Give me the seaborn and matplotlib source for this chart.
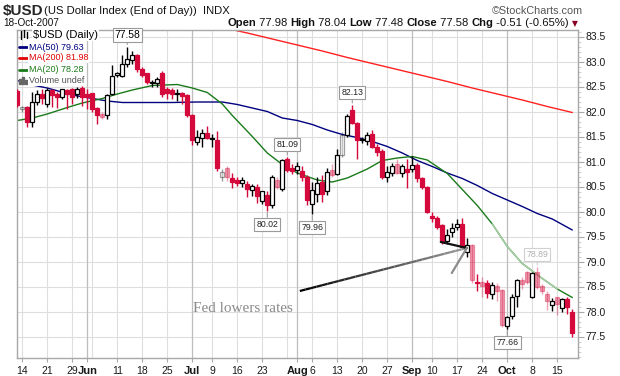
import numpy as np
import pandas as pd
import matplotlib
matplotlib.use("Agg")
import matplotlib.pyplot as plt
from matplotlib.patches import Rectangle
from matplotlib.collections import LineCollection
from matplotlib.lines import Line2D
import seaborn as sns

sns.set_theme(style="white")
plt.rcParams["font.family"] = ["Liberation Sans", "DejaVu Sans"]

# --- colours ---
c_down = "#d40a3c"
c_ma50 = "#00007f"
c_ma200 = "#ff2020"
c_ma20 = "#1a7a1a"
c_grid = "#dedede"
c_grid_month = "#bdbdbd"
c_frame = "#a8a8a8"
c_label = "#9a9a9a"

# --- data: daily bars, 11-May-2007 .. 18-Oct-2007 ---
holidays = ["2007-05-28", "2007-07-04", "2007-09-03"]
days = pd.bdate_range("2007-05-11", "2007-10-18")
days = days[~days.isin(pd.to_datetime(holidays))]

opens = [82.40, 82.05, 82.10, 81.80, 82.20, 82.35, 82.15, 82.43, 82.35, 82.30,
         82.42, 82.46, 82.36, 82.47, 82.35, 82.36, 82.07, 81.95, 81.93, 82.36,
         82.74, 82.72, 82.95, 83.03, 83.13, 82.86, 82.76, 82.58, 82.58, 82.76,
         82.45, 82.42, 82.35, 82.37, 82.33, 81.93, 81.40, 81.48, 81.58, 81.45,
         81.43, 80.68, 80.87, 80.67, 80.62, 80.58, 80.56, 80.43, 80.50, 80.22,
         80.33, 80.13, 80.63, 80.45, 81.05, 80.88, 80.84, 80.82, 80.70, 80.16,
         80.36, 80.60, 80.40, 80.83, 80.76, 81.13, 81.53, 82.03, 81.77, 81.43,
         81.41, 81.55, 81.30, 81.20, 80.68, 80.78, 80.95, 80.77, 80.85, 80.85,
         80.93, 80.67, 80.50, 79.90, 79.87, 79.73, 79.40, 79.60, 79.70, 79.75,
         79.20, 79.33, 78.60, 78.58, 78.56, 78.35, 78.52, 78.42, 77.71, 77.90,
         78.32, 78.62, 78.78, 78.30, 78.78, 78.50, 78.35, 78.14, 78.28, 78.08,
         78.25, 77.98]
highs = [82.45, 82.12, 82.12, 82.40, 82.43, 82.45, 82.48, 82.45, 82.40, 82.46,
         82.45, 82.48, 82.50, 82.52, 82.45, 82.38, 82.10, 82.00, 82.36, 82.93,
         82.80, 83.13, 83.30, 83.22, 83.16, 82.90, 82.78, 82.64, 82.70, 82.82,
         82.50, 82.47, 82.45, 82.40, 82.36, 81.95, 81.63, 81.66, 81.72, 81.55,
         81.62, 80.85, 80.90, 80.78, 80.68, 80.70, 80.62, 80.56, 80.55, 80.42,
         80.40, 80.74, 80.70, 81.05, 81.09, 80.95, 80.99, 80.90, 80.73, 80.60,
         80.70, 80.73, 80.88, 80.95, 81.25, 81.60, 81.95, 82.13, 81.80, 81.50,
         81.60, 81.63, 81.35, 81.25, 80.90, 80.98, 81.05, 80.95, 81.05, 81.12,
         80.97, 80.70, 80.52, 80.00, 79.90, 79.75, 79.65, 79.78, 79.85, 79.88,
         79.47, 79.35, 78.75, 78.68, 78.62, 78.60, 78.58, 78.46, 77.92, 78.35,
         78.66, 78.68, 78.82, 78.80, 78.89, 78.55, 78.40, 78.28, 78.30, 78.28,
         78.30, 78.04]
lows = [82.10, 82.00, 81.68, 81.68, 82.13, 82.15, 82.10, 82.10, 82.08, 82.25,
        82.05, 82.15, 82.28, 82.12, 82.05, 82.00, 81.75, 81.85, 81.85, 82.33,
        82.70, 82.70, 82.90, 82.95, 82.80, 82.70, 82.55, 82.50, 82.50, 82.30,
        82.25, 82.25, 82.22, 82.15, 81.90, 81.33, 81.33, 81.30, 81.45, 81.30,
        80.82, 80.62, 80.62, 80.48, 80.52, 80.50, 80.30, 80.32, 80.17, 80.15,
        80.02, 80.07, 80.45, 80.40, 80.80, 80.75, 80.76, 80.62, 80.13, 79.96,
        80.20, 80.20, 80.33, 80.70, 80.73, 81.10, 81.50, 81.75, 81.06, 81.38,
        81.33, 81.27, 81.12, 80.66, 80.60, 80.72, 80.75, 80.70, 80.48, 80.80,
        80.60, 80.45, 79.97, 79.80, 79.65, 79.35, 79.35, 79.50, 79.62, 79.28,
        79.10, 78.58, 78.42, 78.30, 78.28, 78.25, 78.22, 77.68, 77.66, 77.85,
        78.10, 78.45, 78.55, 78.28, 78.45, 78.35, 78.03, 78.02, 77.93, 78.00,
        77.95, 77.48]
closes = [82.13, 82.09, 81.80, 82.20, 82.35, 82.28, 82.43, 82.33, 82.30, 82.44,
          82.36, 82.30, 82.46, 82.30, 82.30, 82.05, 81.93, 81.90, 82.34, 82.70,
          82.76, 82.96, 83.06, 83.13, 82.86, 82.73, 82.60, 82.59, 82.65, 82.36,
          82.37, 82.35, 82.37, 82.32, 81.93, 81.43, 81.50, 81.58, 81.48, 81.47,
          80.87, 80.80, 80.70, 80.60, 80.58, 80.63, 80.46, 80.51, 80.31, 80.40,
          80.13, 80.70, 80.50, 81.03, 80.83, 80.82, 80.90, 80.70, 80.23, 80.43,
          80.57, 80.36, 80.80, 80.73, 81.13, 81.53, 81.90, 81.77, 81.43, 81.46,
          81.53, 81.30, 81.18, 80.68, 80.80, 80.90, 80.78, 80.90, 80.80, 80.93,
          80.67, 80.50, 80.00, 79.88, 79.70, 79.40, 79.53, 79.67, 79.75, 79.30,
          79.33, 78.62, 78.57, 78.52, 78.37, 78.53, 78.42, 77.74, 77.88, 78.30,
          78.62, 78.55, 78.60, 78.76, 78.50, 78.40, 78.20, 78.20, 78.15, 78.25,
          78.09, 77.58]

# bars that look washed out in the original
faded_days = ["2007-05-14", "2007-06-06", "2007-07-11", "2007-07-12", "2007-07-26",
              "2007-08-10", "2007-08-14", "2007-08-29", "2007-09-20", "2007-09-24",
              "2007-09-27", "2007-09-28", "2007-10-04", "2007-10-05", "2007-10-09",
              "2007-10-10", "2007-10-11", "2007-10-15"]

ma50_dates = ["2007-05-11", "2007-05-16", "2007-05-21", "2007-05-29", "2007-06-04",
              "2007-06-07", "2007-06-12", "2007-06-19", "2007-06-26", "2007-07-03",
              "2007-07-11", "2007-07-16", "2007-07-19", "2007-07-24", "2007-07-27",
              "2007-08-01", "2007-08-06", "2007-08-09", "2007-08-14", "2007-08-17",
              "2007-08-22", "2007-08-27", "2007-08-30", "2007-09-05", "2007-09-10",
              "2007-09-13", "2007-09-18", "2007-09-21", "2007-09-26", "2007-10-01",
              "2007-10-04", "2007-10-09", "2007-10-12", "2007-10-18"]
ma50_vals = [82.62, 82.53, 82.47, 82.33, 82.26, 82.21, 82.18, 82.18, 82.18, 82.19,
             82.19, 82.14, 82.07, 82.00, 81.87, 81.82, 81.74, 81.63, 81.54, 81.48,
             81.40, 81.30, 81.17, 81.02, 80.90, 80.77, 80.66, 80.52, 80.36, 80.23,
             80.10, 79.96, 79.85, 79.63]

ma20_dates = ["2007-05-11", "2007-05-16", "2007-05-21", "2007-05-25", "2007-05-31",
              "2007-06-06", "2007-06-11", "2007-06-14", "2007-06-20", "2007-06-27",
              "2007-07-02", "2007-07-06", "2007-07-11", "2007-07-13", "2007-07-19",
              "2007-07-24", "2007-07-27", "2007-08-01", "2007-08-07", "2007-08-10",
              "2007-08-15", "2007-08-21", "2007-08-24", "2007-08-29", "2007-09-04",
              "2007-09-07", "2007-09-13", "2007-09-18", "2007-09-21", "2007-09-26",
              "2007-10-01", "2007-10-04", "2007-10-10", "2007-10-15", "2007-10-18"]
ma20_vals = [81.82, 81.87, 81.95, 82.08, 82.17, 82.26, 82.35, 82.43, 82.52, 82.54,
             82.47, 82.38, 82.15, 81.92, 81.50, 81.17, 80.94, 80.77, 80.63, 80.59,
             80.67, 80.85, 81.02, 81.07, 81.10, 81.03, 80.76, 80.44, 80.12, 79.75,
             79.30, 78.96, 78.66, 78.45, 78.28]

ma200_dates = ["2007-07-11", "2007-07-18", "2007-07-25", "2007-08-01", "2007-08-08",
               "2007-08-15", "2007-08-22", "2007-08-29", "2007-09-06", "2007-09-13",
               "2007-09-20", "2007-09-27", "2007-10-04", "2007-10-11", "2007-10-18"]
ma200_vals = [83.68, 83.57, 83.45, 83.33, 83.21, 83.08, 82.96, 82.84, 82.72, 82.60,
              82.47, 82.35, 82.23, 82.10, 81.98]

label_days = ["2007-07-24", "2007-07-30", "2007-08-06",
              "2007-08-16", "2007-10-01", "2007-10-09"]
label_kind = ["low", "high", "low", "high", "low", "high"]
june_top = "2007-06-13"   # its box ends up showing the legend's last close

tick_dates = ["2007-05-14", "2007-05-21", "2007-05-29", "2007-06-01", "2007-06-11",
              "2007-06-18", "2007-06-25", "2007-07-02", "2007-07-09", "2007-07-16",
              "2007-07-23", "2007-08-01", "2007-08-06", "2007-08-13", "2007-08-20",
              "2007-08-27", "2007-09-04", "2007-09-10", "2007-09-17", "2007-09-24",
              "2007-10-01", "2007-10-08", "2007-10-15"]
tick_labels = ["14", "21", "29", "Jun", "11", "18", "25", "Jul", "9", "16", "23",
               "Aug", "6", "13", "20", "27", "Sep", "10", "17", "24", "Oct", "8", "15"]

# --- layout helpers ---
W, H = 620, 376
pos = {d: i for i, d in enumerate(days)}
P = lambda d: pos[pd.Timestamp(d)]


def fx(x):
    return x / W


def fy(y):
    return 1 - y / H


fig = plt.figure(figsize=(W / 100, H / 100), dpi=100)
ax = fig.add_axes([fx(16.7), fy(358), (578 - 16.7) / W, (358 - 29.5) / H])
ax.set_xlim(-0.12, 112.14)
ax.set_ylim(77.07, 83.64)

# grid: horizontal every 0.5, vertical at week starts, darker at month starts
for v in np.arange(77.5, 83.51, 0.5):
    ax.axhline(v, color=c_grid, lw=0.8, zorder=0)
prev = None
for i, d in enumerate(days):
    if prev is None:
        prev = d
        continue
    new_month = d.month != prev.month
    new_week = d.weekday() < prev.weekday()
    if new_month:
        ax.axvline(i, color=c_grid_month, lw=0.9, zorder=0)
    elif new_week:
        ax.axvline(i, color=c_grid, lw=0.8, zorder=0)
    prev = d

# --- moving averages ---
for dates, vals, col in [(ma200_dates, ma200_vals, c_ma200),
                         (ma50_dates, ma50_vals, c_ma50),
                         (ma20_dates, ma20_vals, c_ma20)]:
    df = pd.DataFrame({"x": [P(d) for d in dates], "y": vals})
    sns.lineplot(data=df, x="x", y="y", ax=ax, color=col, lw=1.0, legend=False, zorder=2)
# washed-out piece of the 20-day line
seg = [(P(d), v) for d, v in zip(ma20_dates, ma20_vals) if P("2007-09-26") <= P(d) <= P("2007-10-15")]
ax.plot([s[0] for s in seg], [s[1] for s in seg], color="#a9cfa9", lw=1.1, zorder=2.1)

# --- candles ---
faded = set(P(d) for d in faded_days)
bw = 0.8
for i in range(len(days)):
    o, h, l, c = opens[i], highs[i], lows[i], closes[i]
    a = 0.38 if i in faded else 1.0
    up = c >= o
    col = "black" if up else c_down
    ax.vlines(i, l, h, color=col, lw=1.0, alpha=a, zorder=3)
    lo, hgt = min(o, c), max(abs(c - o), 0.012)
    ax.add_patch(Rectangle((i - bw / 2, lo), bw, hgt, facecolor="white" if up else c_down,
                           edgecolor=col, lw=0.9, alpha=a, zorder=4))

# --- price labels at swing points ---
for d, k in zip(label_days, label_kind):
    i = P(d)
    v = highs[i] if k == "high" else lows[i]
    faint = i in faded
    ec = "#d0d0d0" if faint else c_label
    tc = "#b0b0b0" if faint else "#222222"
    ax.annotate(f"{v:.2f}", xy=(i, v), xytext=(0, 9 if k == "high" else -10),
                textcoords="offset points", ha="center", va="center", fontsize=6.3, color=tc,
                bbox=dict(boxstyle="square,pad=0.25", fc="white", ec=ec, lw=0.8),
                arrowprops=dict(arrowstyle="-", color=ec, lw=0.8, shrinkA=0, shrinkB=1.5),
                zorder=6)

# june top: legend's close value lands inside this pointer box
ax.annotate(f"{closes[-1]:.2f}", xy=(P(june_top), highs[P(june_top)]), xytext=(0, 8.3),
            textcoords="offset points", ha="center", va="center", fontsize=7.4, color="black",
            bbox=dict(boxstyle="square,pad=0.18", fc="white", ec=c_label, lw=0.8),
            arrowprops=dict(arrowstyle="-", color=c_label, lw=0.8, shrinkA=0, shrinkB=1.5),
            zorder=11)

# --- "Fed lowers rates" arrow ---
start = np.array([56.5, 78.41])
tip = np.array([89.9, 79.27])
n = 30
pts = np.linspace(start, tip, n + 1)
segs = np.stack([pts[:-1], pts[1:]], axis=1)
shade = np.linspace(0.0, 0.6, n)
lc = LineCollection(segs, colors=[(s, s, s) for s in shade], lw=1.6, zorder=7)
ax.add_collection(lc)
ax.plot([84.7, tip[0]], [79.39, tip[1]], color="#111111", lw=1.6, zorder=7)
ax.plot([86.9, tip[0]], [78.77, tip[1]], color="#8c8c8c", lw=1.6, zorder=7)
ax.text(35.1, 78.07, "Fed lowers rates", family=["Liberation Serif", "DejaVu Serif"],
        fontsize=11, color="#8a8a8a", va="center", ha="left", zorder=7)

# --- axes styling ---
ax.set_xlabel("")
ax.set_ylabel("")
ax.yaxis.tick_right()
ax.set_yticks(np.arange(77.5, 83.51, 0.5))
ax.set_yticklabels([f"{v:.1f}" for v in np.arange(77.5, 83.51, 0.5)], fontsize=7.5, color="#1a1a1a")
ax.set_yticks(np.arange(77.1, 83.61, 0.1), minor=True)
ax.tick_params(axis="y", which="major", length=4, width=0.8, color=c_frame, pad=1.5, right=True, left=False)
ax.tick_params(axis="y", which="minor", length=2, width=0.6, color="#c8c8c8", right=True, left=False)
ax.set_xticks([P(d) for d in tick_dates])
ax.set_xticklabels(tick_labels, fontsize=7.5, color="#1a1a1a")
for lbl in ax.get_xticklabels():
    if lbl.get_text().isalpha():
        lbl.set_fontweight("bold")
        lbl.set_fontsize(8)
ax.tick_params(axis="x", length=3, width=0.8, color=c_frame, pad=3, bottom=True)
for sp in ax.spines.values():
    sp.set_color(c_frame)
    sp.set_linewidth(1.0)

# --- legend block (top left, inside the plot) ---
leg_rows = [("$USD (Daily)", "black", 35),
            ("MA(50) 79.63", c_ma50, 47),
            ("MA(200) 81.98", "#e00000", 58),
            ("MA(20) 78.28", c_ma20, 69.5),
            ("Volume undef", "#555555", 80.5)]
for k, (txt, col, y) in enumerate(leg_rows):
    x0 = 33 if k == 0 else 29
    fig.text(fx(x0), fy(y), txt, fontsize=8.0 if k == 0 else 6.5, color=col, va="center", ha="left",
             bbox=dict(boxstyle="square,pad=0.08", fc="white", ec="none"), zorder=10)
    if k in (1, 2, 3):
        fig.add_artist(Line2D([fx(19), fx(27)], [fy(y), fy(y)], color=col, lw=2, zorder=10))
# candle icon and volume icon
for xx, y1, y2 in [(21, 31, 39), (24, 30, 37), (27, 32, 38)]:
    fig.add_artist(Line2D([fx(xx), fx(xx)], [fy(y1), fy(y2)], color="black", lw=1, zorder=10))
for xx, hh in [(20, 5), (23, 7), (26, 4)]:
    fig.add_artist(Rectangle((fx(xx - 1), fy(84)), 2.2 / W, hh / H, color="#666666", zorder=10))

# --- header ---
fig.text(fx(3), fy(11), "$USD", fontsize=11, fontweight="bold", va="center", ha="left")
fig.text(fx(44), fy(11.5), "(US Dollar Index (End of Day))  INDX", fontsize=8.1,
         va="center", ha="left", color="#111111")
fig.text(fx(3), fy(23.5), "18-Oct-2007", fontsize=7.2, va="center", ha="left", color="#111111")
fig.text(fx(583), fy(11.5), "\u00a9StockCharts.com", fontsize=7.8, va="center", ha="right",
         color="#555555")

pieces = [("Open", True), (" 77.98 ", False), ("High", True), (" 78.04 ", False),
          ("Low", True), (" 77.48 ", False), ("Close", True), (" 77.58 ", False),
          ("Chg", True), (" -0.51 (-0.65%)", False)]
renderer = fig.canvas.get_renderer()
x = 227
for txt, bold in pieces:
    t = fig.text(fx(x), fy(23.5), txt, fontsize=8.1, fontweight="bold" if bold else "normal",
                 va="center", ha="left", color="#111111")
    x += t.get_window_extent(renderer=renderer).width
fig.text(fx(x + 3), fy(23.5), "\u25bc", fontsize=5.5, color="#8b0022", va="center", ha="left",
         family=["DejaVu Sans"])

fig.savefig("out.png", dpi=100)
